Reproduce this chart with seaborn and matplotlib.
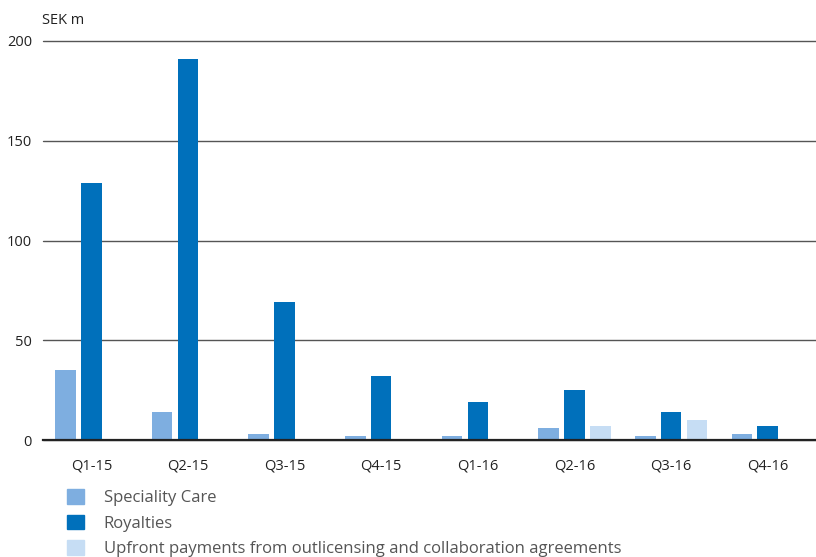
import pandas as pd
import matplotlib.pyplot as plt
import seaborn as sns

# Data (SEK m)
quarters = ['Q1-15', 'Q2-15', 'Q3-15', 'Q4-15', 'Q1-16', 'Q2-16', 'Q3-16', 'Q4-16']
speciality_care = [35, 14, 3, 2, 2, 6, 2, 3]
royalties = [129, 191, 69, 32, 19, 25, 14, 7]
upfront = [0, 0, 0, 0, 0, 7, 10, 0]

series_names = ['Speciality Care', 'Royalties',
                'Upfront payments from outlicensing and collaboration agreements']
colors = ['#7eaee0', '#0070bb', '#c6ddf4']

df = pd.DataFrame({
    'Quarter': quarters * 3,
    'Series': [series_names[0]] * 8 + [series_names[1]] * 8 + [series_names[2]] * 8,
    'Value': speciality_care + royalties + upfront,
})

sns.set_style('white')
plt.rcParams['font.family'] = ['Open Sans', 'DejaVu Sans']

fig = plt.figure(figsize=(8.16, 5.57), dpi=100)
ax = fig.add_axes([43 / 816, 1 - 440 / 557, 1 - 43 / 816, 399 / 557])

sns.barplot(data=df, x='Quarter', y='Value', hue='Series', palette=colors,
            width=0.8, gap=0.2, linewidth=0, saturation=1, legend=False, ax=ax)

ax.set_ylim(0, 200)
ax.set_xlim(-0.5, 7.5)
ax.set_yticks([0, 50, 100, 150, 200])
ax.set_xlabel('')
ax.set_ylabel('')
for s in ['top', 'right', 'left']:
    ax.spines[s].set_visible(False)
ax.spines['bottom'].set_color('#222222')
ax.spines['bottom'].set_linewidth(1.6)
ax.yaxis.grid(True, color='#555555', linewidth=1.0)
for gl in ax.yaxis.get_gridlines():
    gl.set_clip_on(False)
ax.set_axisbelow(True)
ax.tick_params(axis='both', length=0, labelsize=10.5, colors='#222222')
ax.tick_params(axis='y', pad=8)
ax.tick_params(axis='x', pad=13)

fig.text(42 / 816, 1 - 20 / 557, 'SEK m', fontsize=10.5, color='#222222', va='center')

handles = [plt.Rectangle((0, 0), 1, 1, color=c) for c in colors]
fig.legend(handles, series_names, loc='upper left', bbox_to_anchor=(52 / 816, 1 - 474 / 557),
           frameon=False, fontsize=12, handlelength=1.0, handleheight=1.0,
           handletextpad=1.2, labelspacing=0.5, labelcolor='#555555')

plt.savefig('out.png', dpi=100)
